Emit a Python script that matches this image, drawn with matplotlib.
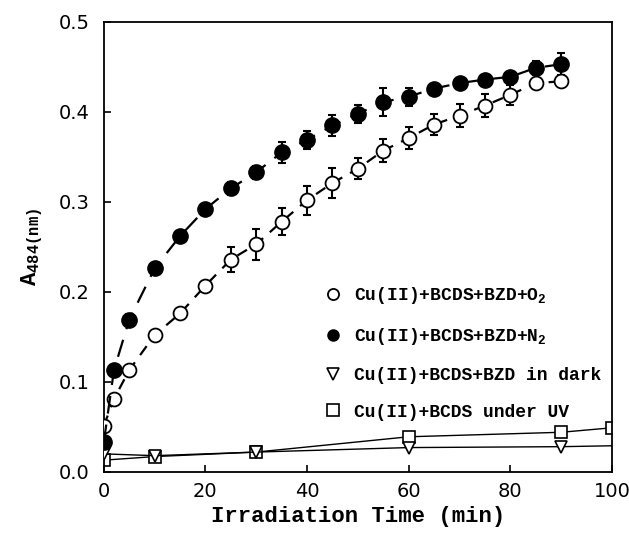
import numpy as np
import matplotlib.pyplot as plt

# data
t_light = [0, 2, 5, 10, 15, 20, 25, 30, 35, 40, 45, 50, 55, 60, 65, 70, 75, 80, 85, 90]
a_o2 = [0.051, 0.081, 0.113, 0.152, 0.176, 0.207, 0.236, 0.253, 0.278, 0.302,
        0.321, 0.337, 0.357, 0.371, 0.386, 0.396, 0.407, 0.419, 0.432, 0.434]
err_o2 = [0, 0, 0, 0, 0, 0, 0.014, 0.017, 0.015, 0.016,
          0.017, 0.012, 0.013, 0.012, 0.012, 0.013, 0.013, 0.011, 0.006, 0]
a_n2 = [0.033, 0.113, 0.169, 0.226, 0.262, 0.292, 0.315, 0.333, 0.355, 0.369,
        0.385, 0.398, 0.411, 0.417, 0.426, 0.432, 0.436, 0.439, 0.449, 0.453]
err_n2 = [0, 0, 0.006, 0, 0.006, 0, 0.007, 0.007, 0.012, 0.010,
          0.012, 0.010, 0.016, 0.010, 0.004, 0, 0, 0.005, 0.008, 0.012]

t_dark = [0, 10, 30, 60, 90, 100]
a_dark = [0.020, 0.018, 0.022, 0.027, 0.028, 0.029]
t_uv = [0, 10, 30, 60, 90, 100]
a_uv = [0.013, 0.017, 0.022, 0.039, 0.044, 0.049]

labels = ["Cu(II)+BCDS+BZD+O$_\\mathregular{2}$",
          "Cu(II)+BCDS+BZD+N$_\\mathregular{2}$",
          "Cu(II)+BCDS+BZD in dark",
          "Cu(II)+BCDS under UV"]

mono = "Liberation Mono"

fig = plt.figure(figsize=(6.29, 5.35), dpi=100)
ax = fig.add_axes([0.165, 0.118, 0.808, 0.841])

# bottom two series, solid lines
ax.plot(t_uv, a_uv, "-", color="k", lw=1.0, marker="s", ms=8,
        mfc="white", mec="k", mew=1.2, label=labels[3], zorder=2)
ax.plot(t_dark, a_dark, "-", color="k", lw=1.0, marker="v", ms=9,
        mfc="white", mec="k", mew=1.2, markevery=[0, 1, 2, 3, 4],
        label=labels[2], zorder=3)

# irradiated series with error bars
ax.errorbar(t_light, a_o2, yerr=err_o2, fmt="none", ecolor="k",
            elinewidth=1.5, capsize=3, capthick=1.5, zorder=3)
ax.plot(t_light, a_o2, color="k", lw=1.6, dashes=(5, 4), marker="o", ms=10,
        mfc="white", mec="k", mew=1.3, label=labels[0], zorder=4)
ax.errorbar(t_light, a_n2, yerr=err_n2, fmt="none", ecolor="k",
            elinewidth=1.5, capsize=3, capthick=1.5, zorder=3)
ax.plot(t_light, a_n2, color="k", lw=1.6, dashes=(8, 5), marker="o", ms=11,
        mfc="k", mec="k", label=labels[1], zorder=4)

ax.set_xlim(0, 100)
ax.set_ylim(0, 0.5)
ax.set_xticks(np.arange(0, 101, 20))
ax.set_yticks(np.arange(0, 0.51, 0.1))
ax.set_yticklabels(["0.0", "0.1", "0.2", "0.3", "0.4", "0.5"])
ax.tick_params(direction="in", length=5, width=1.2, labelsize=14)
ax.tick_params(axis="y", pad=10)
ax.tick_params(axis="x", pad=7)
for s in ax.spines.values():
    s.set_linewidth(1.3)

ax.set_xlabel("Irradiation Time (min)", fontfamily=mono, fontweight="bold",
              fontsize=16, labelpad=4)
ax.set_ylabel("A$_\\mathregular{484(nm)}$", fontfamily=mono,
              fontweight="bold", fontsize=16, labelpad=10)

h, l = ax.get_legend_handles_labels()
order = [2, 3, 1, 0]
leg = ax.legend([h[i] for i in order], [l[i] for i in order],
                loc="upper left", bbox_to_anchor=(0.44, 0.415), frameon=False,
                prop={"family": mono, "weight": "bold", "size": 13},
                handlelength=0.6, handletextpad=0.9, labelspacing=1.1,
                borderaxespad=0, borderpad=0)
for lh in leg.legend_handles:
    lh.set_linestyle("none")
    lh.set_markersize(8)

fig.savefig("out.png", dpi=100)
